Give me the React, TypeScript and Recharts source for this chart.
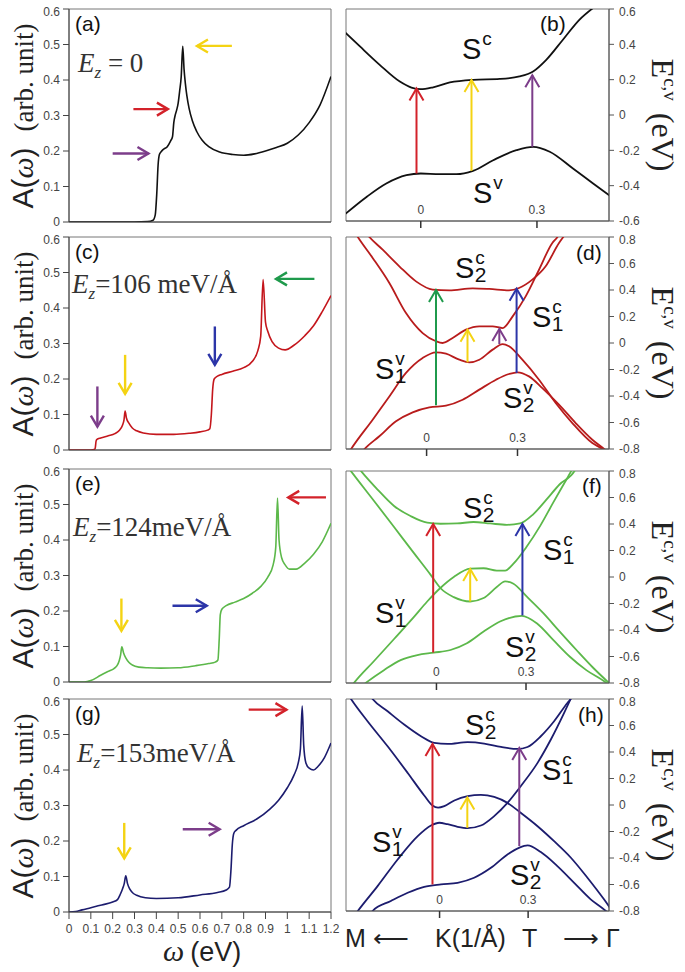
import React from 'react';
import { LineChart, Line, XAxis, YAxis, ReferenceLine, ReferenceArea } from 'recharts';

const SANS = 'Arial, "Liberation Sans", Helvetica, sans-serif';
const SERIF = '"Times New Roman", "Liberation Serif", "DejaVu Serif", serif';

// axis ticks
const omegaTicks = [0, 0.1, 0.2, 0.3, 0.4, 0.5, 0.6, 0.7, 0.8, 0.9, 1, 1.1, 1.2];
const absTicks = [0, 0.1, 0.2, 0.3, 0.4, 0.5, 0.6];
const kTicks = [0, 0.3];
const energyTicksSmall = [-0.6, -0.4, -0.2, 0, 0.2, 0.4, 0.6];
const energyTicksLarge = [-0.8, -0.6, -0.4, -0.2, 0, 0.2, 0.4, 0.6, 0.8];

// absorption spectra A(omega)
const omegaA = [0, 0.1, 0.2, 0.3, 0.36, 0.385, 0.395, 0.402, 0.408, 0.414, 0.422, 0.433, 0.45, 0.465, 0.474, 0.48, 0.486, 0.493, 0.5, 0.507, 0.514, 0.521, 0.527, 0.533, 0.54, 0.55, 0.565, 0.585, 0.61, 0.64, 0.69, 0.75, 0.8, 0.85, 0.9, 0.95, 1.0, 1.05, 1.1, 1.15, 1.2];
const specA = [0, 0, 0, 0, 0.001, 0.005, 0.02, 0.08, 0.16, 0.19, 0.198, 0.205, 0.212, 0.228, 0.24, 0.28, 0.3, 0.315, 0.335, 0.37, 0.41, 0.495, 0.43, 0.39, 0.355, 0.32, 0.285, 0.255, 0.23, 0.212, 0.197, 0.19, 0.188, 0.192, 0.2, 0.21, 0.222, 0.245, 0.28, 0.33, 0.41];

const omegaC = [0, 0.1, 0.115, 0.12, 0.124, 0.128, 0.145, 0.18, 0.21, 0.23, 0.245, 0.252, 0.257, 0.263, 0.275, 0.29, 0.31, 0.34, 0.4, 0.48, 0.55, 0.6, 0.635, 0.645, 0.652, 0.658, 0.665, 0.68, 0.7, 0.75, 0.8, 0.84, 0.865, 0.878, 0.889, 0.9, 0.91, 0.93, 0.96, 0.99, 1.03, 1.08, 1.12, 1.16, 1.2];
const specC = [0, 0, 0.001, 0.005, 0.025, 0.03, 0.034, 0.04, 0.046, 0.055, 0.07, 0.085, 0.11, 0.09, 0.075, 0.062, 0.054, 0.048, 0.044, 0.044, 0.047, 0.051, 0.056, 0.06, 0.1, 0.17, 0.2, 0.208, 0.213, 0.222, 0.232, 0.25, 0.28, 0.32, 0.48, 0.36, 0.335, 0.305, 0.287, 0.282, 0.295, 0.322, 0.35, 0.39, 0.435];

const omegaE = [0, 0.07, 0.1, 0.145, 0.18, 0.206, 0.22, 0.23, 0.236, 0.242, 0.25, 0.26, 0.275, 0.29, 0.32, 0.36, 0.42, 0.5, 0.58, 0.64, 0.67, 0.682, 0.688, 0.693, 0.7, 0.72, 0.76, 0.8, 0.84, 0.88, 0.91, 0.935, 0.947, 0.955, 0.962, 0.974, 0.99, 1.01, 1.04, 1.08, 1.12, 1.16, 1.2];
const specE = [0, 0, 0.004, 0.019, 0.03, 0.038, 0.046, 0.06, 0.075, 0.099, 0.082, 0.068, 0.055, 0.048, 0.042, 0.04, 0.039, 0.04, 0.046, 0.052, 0.056, 0.062, 0.12, 0.19, 0.205, 0.215, 0.225, 0.235, 0.25, 0.27, 0.295, 0.33, 0.38, 0.518, 0.4, 0.35, 0.33, 0.318, 0.318, 0.335, 0.36, 0.395, 0.447];

const omegaG = [0, 0.03, 0.06, 0.1, 0.15, 0.2, 0.222, 0.235, 0.245, 0.253, 0.26, 0.268, 0.278, 0.29, 0.31, 0.35, 0.4, 0.5, 0.6, 0.68, 0.72, 0.735, 0.742, 0.748, 0.755, 0.765, 0.8, 0.86, 0.92, 0.96, 1.0, 1.03, 1.05, 1.06, 1.068, 1.075, 1.085, 1.1, 1.12, 1.14, 1.17, 1.2];
const specG = [0, 0.001, 0.006, 0.012, 0.02, 0.028, 0.035, 0.05, 0.065, 0.08, 0.102, 0.08, 0.065, 0.055, 0.047, 0.04, 0.038, 0.04, 0.048, 0.055, 0.062, 0.07, 0.12, 0.19, 0.222, 0.23, 0.243, 0.262, 0.29, 0.315, 0.35, 0.385, 0.42, 0.46, 0.58, 0.47, 0.42, 0.405, 0.4, 0.41, 0.435, 0.476];

// marker arrows in spectra: [w1, a1, w2, a2, colour]
const arrowsA = [[0.746, 0.496, 0.586, 0.496, 'yellow'], [0.295, 0.318, 0.453, 0.318, 'red'], [0.2, 0.193, 0.364, 0.193, 'purple']];
const arrowsC = [[0.13, 0.179, 0.13, 0.066, 'purple'], [0.257, 0.268, 0.257, 0.158, 'yellow'], [0.668, 0.348, 0.668, 0.24, 'blue'], [1.124, 0.482, 0.948, 0.482, 'green']];
const arrowsE = [[0.24, 0.235, 0.24, 0.144, 'yellow'], [0.474, 0.215, 0.631, 0.215, 'blue'], [1.177, 0.52, 1.004, 0.52, 'red']];
const arrowsG = [[0.253, 0.251, 0.253, 0.151, 'yellow'], [0.521, 0.233, 0.69, 0.233, 'purple'], [0.823, 0.57, 0.996, 0.57, 'red']];

// band structures, [k, E]
const bandB_c = [[-0.2, 0.478], [-0.157, 0.388], [-0.106, 0.284], [-0.054, 0.189], [-0.024, 0.155], [0, 0.146], [0.032, 0.157], [0.075, 0.184], [0.135, 0.199], [0.204, 0.204], [0.255, 0.218], [0.29, 0.246], [0.324, 0.312], [0.367, 0.426], [0.41, 0.54], [0.445, 0.606]];
const bandB_v = [[-0.2, -0.57], [-0.14, -0.464], [-0.089, -0.388], [-0.037, -0.341], [0, -0.331], [0.049, -0.335], [0.092, -0.335], [0.135, -0.316], [0.187, -0.256], [0.247, -0.199], [0.29, -0.18], [0.333, -0.208], [0.393, -0.303], [0.445, -0.388], [0.49, -0.46]];

const bandD_2c = [[-0.2, 0.83], [-0.189, 0.8], [-0.145, 0.704], [-0.09, 0.579], [-0.035, 0.465], [0.02, 0.403], [0.075, 0.397], [0.152, 0.413], [0.207, 0.408], [0.272, 0.397], [0.305, 0.415], [0.349, 0.478], [0.393, 0.579], [0.437, 0.755], [0.451, 0.8], [0.46, 0.83]];
const bandD_1c = [[-0.238, 0.84], [-0.227, 0.8], [-0.178, 0.642], [-0.123, 0.453], [-0.068, 0.226], [-0.013, 0.075], [0.031, 0.013], [0.053, 0.0], [0.086, 0.038], [0.13, 0.101], [0.174, 0.126], [0.218, 0.126], [0.251, 0.113], [0.284, 0.201], [0.327, 0.352], [0.371, 0.553], [0.415, 0.755], [0.432, 0.8], [0.44, 0.83]];
const bandD_1v = [[-0.26, -0.84], [-0.249, -0.8], [-0.178, -0.579], [-0.123, -0.403], [-0.068, -0.226], [-0.013, -0.113], [0.031, -0.07], [0.064, -0.081], [0.108, -0.126], [0.141, -0.146], [0.174, -0.126], [0.218, -0.05], [0.251, -0.008], [0.272, -0.025], [0.316, -0.126], [0.371, -0.277], [0.426, -0.453], [0.481, -0.604], [0.547, -0.755], [0.58, -0.8], [0.6, -0.84]];
const bandD_2v = [[-0.22, -0.84], [-0.205, -0.8], [-0.156, -0.704], [-0.101, -0.591], [-0.046, -0.523], [0.009, -0.486], [0.064, -0.473], [0.119, -0.428], [0.174, -0.352], [0.229, -0.277], [0.272, -0.234], [0.3, -0.221], [0.338, -0.252], [0.382, -0.34], [0.437, -0.465], [0.492, -0.604], [0.547, -0.73], [0.591, -0.81], [0.61, -0.85]];

const bandF_a = [[-0.3, 0.84], [-0.287, 0.801], [-0.209, 0.574], [-0.142, 0.377], [-0.076, 0.182], [-0.02, 0.018], [0.013, -0.083], [0.058, -0.152], [0.113, -0.185], [0.158, -0.159], [0.202, -0.076], [0.23, -0.033], [0.258, -0.051], [0.302, -0.147], [0.358, -0.273], [0.413, -0.412], [0.469, -0.551], [0.524, -0.683], [0.58, -0.804]];
const bandF_b = [[-0.29, -0.84], [-0.276, -0.799], [-0.209, -0.634], [-0.142, -0.468], [-0.076, -0.303], [-0.031, -0.185], [0.013, -0.083], [0.058, 0.0], [0.113, 0.063], [0.158, 0.066], [0.202, 0.048], [0.23, 0.048], [0.258, 0.101], [0.302, 0.228], [0.347, 0.384], [0.391, 0.561], [0.436, 0.738], [0.452, 0.801], [0.46, 0.83]];
const bandF_2c = [[-0.27, 0.85], [-0.253, 0.801], [-0.198, 0.662], [-0.142, 0.536], [-0.087, 0.46], [-0.031, 0.41], [0.013, 0.402], [0.069, 0.404], [0.124, 0.415], [0.18, 0.404], [0.236, 0.394], [0.28, 0.404], [0.324, 0.473], [0.369, 0.586], [0.413, 0.7], [0.463, 0.801], [0.47, 0.83]];
const bandF_2v = [[-0.26, -0.84], [-0.237, -0.799], [-0.176, -0.703], [-0.12, -0.627], [-0.064, -0.589], [-0.009, -0.571], [0.047, -0.551], [0.102, -0.5], [0.158, -0.412], [0.213, -0.336], [0.286, -0.293], [0.336, -0.349], [0.391, -0.475], [0.447, -0.602], [0.502, -0.703], [0.569, -0.799], [0.59, -0.84]];

const bandH_a = [[-0.32, 0.87], [-0.3, 0.8], [-0.244, 0.632], [-0.176, 0.443], [-0.108, 0.242], [-0.052, 0.072], [-0.024, -0.004], [-0.005, -0.02], [0.016, -0.009], [0.05, 0.034], [0.095, 0.067], [0.14, 0.077], [0.185, 0.061], [0.23, 0.016], [0.275, -0.059], [0.332, -0.16], [0.388, -0.273], [0.445, -0.398], [0.501, -0.549], [0.557, -0.712], [0.585, -0.8]];
const bandH_b = [[-0.29, -0.84], [-0.277, -0.8], [-0.21, -0.612], [-0.142, -0.411], [-0.074, -0.235], [-0.029, -0.155], [-0.001, -0.134], [0.027, -0.145], [0.061, -0.165], [0.095, -0.175], [0.14, -0.155], [0.185, -0.084], [0.23, 0.016], [0.275, 0.142], [0.332, 0.318], [0.377, 0.494], [0.422, 0.695], [0.444, 0.8], [0.452, 0.84]];
const bandH_2c = [[-0.24, 0.84], [-0.227, 0.8], [-0.176, 0.707], [-0.12, 0.607], [-0.063, 0.519], [-0.018, 0.469], [0.027, 0.461], [0.095, 0.474], [0.151, 0.464], [0.208, 0.438], [0.264, 0.423], [0.298, 0.438], [0.343, 0.519], [0.388, 0.632], [0.433, 0.77], [0.444, 0.8], [0.452, 0.83]];
const bandH_2v = [[-0.24, -0.84], [-0.227, -0.8], [-0.165, -0.725], [-0.108, -0.662], [-0.052, -0.617], [0.005, -0.599], [0.061, -0.587], [0.117, -0.549], [0.174, -0.474], [0.23, -0.373], [0.269, -0.323], [0.298, -0.305], [0.343, -0.355], [0.399, -0.461], [0.456, -0.587], [0.512, -0.712], [0.563, -0.8], [0.58, -0.84]];

// vertical transitions: [k, E_from, E_to, colour]
const transB = [[-0.011, -0.331, 0.15, 'red'], [0.131, -0.316, 0.198, 'yellow'], [0.288, -0.18, 0.225, 'purple']];
const transD = [[0.031, -0.47, 0.4, 'green'], [0.135, -0.146, 0.1, 'yellow'], [0.24, -0.008, 0.105, 'purple'], [0.297, -0.226, 0.41, 'blue']];
const transF = [[-0.011, -0.57, 0.4, 'red'], [0.113, -0.185, 0.06, 'yellow'], [0.288, -0.29, 0.4, 'blue']];
const transH = [[-0.024, -0.6, 0.46, 'red'], [0.094, -0.172, 0.057, 'yellow'], [0.27, -0.31, 0.43, 'purple']];

const palette: Record<string, string> = {
  red: '#d3222a',
  yellow: '#f4d313',
  purple: '#7c3d8a',
  green: '#1f9a4c',
  blue: '#2c35a8',
};

const zip = (xs: number[], ys: number[]) => xs.map((x, i) => ({ x, y: ys[i] }));
const toXY = (pts: number[][]) => pts.map(([x, y]) => ({ x, y }));

const arrowShape = (color: string, head: number, half: number, sw: number) => (p: any) => {
  const { x1, y1, x2, y2 } = p;
  const dx = x2 - x1;
  const dy = y2 - y1;
  const len = Math.hypot(dx, dy) || 1;
  const ux = dx / len;
  const uy = dy / len;
  const bx = x2 - ux * head;
  const by = y2 - uy * head;
  const px = -uy * half;
  const py = ux * half;
  return (
    <g>
      <line x1={x1} y1={y1} x2={x2} y2={y2} stroke={color} strokeWidth={sw} />
      <polyline
        points={`${bx + px},${by + py} ${x2},${y2} ${bx - px},${by - py}`}
        fill="none"
        stroke={color}
        strokeWidth={sw}
      />
    </g>
  );
};

const numLabel = (v: number) => String(v);

const tickStyle = { fontSize: 12, fontFamily: SANS, fill: '#444' };

function SpectrumPanel({ top, data, color, arrows, showX }: any) {
  return (
    <div style={{ position: 'absolute', left: 0, top: top - 5 }}>
      <LineChart width={340} height={248} data={data} margin={{ top: 5, right: 9, bottom: 0, left: 0 }}>
        <XAxis
          type="number"
          dataKey="x"
          domain={[0, 1.2]}
          ticks={omegaTicks}
          allowDataOverflow
          height={30}
          tickSize={7}
          tickMargin={5}
          tick={showX ? tickStyle : false}
          tickFormatter={numLabel}
          axisLine={{ stroke: '#444' }}
          tickLine={{ stroke: '#444' }}
        />
        <YAxis
          type="number"
          domain={[0, 0.6]}
          ticks={absTicks}
          allowDataOverflow
          width={69}
          tickSize={6}
          tickMargin={3}
          tick={tickStyle}
          tickFormatter={numLabel}
          axisLine={{ stroke: '#444' }}
          tickLine={{ stroke: '#444' }}
        />
        <ReferenceArea x1={0} x2={1.2} y1={0} y2={0.6} fill="none" stroke="#777" strokeWidth={1} />
        <Line
          dataKey="y"
          type="monotone"
          stroke={color}
          strokeWidth={1.6}
          dot={false}
          activeDot={false}
          isAnimationActive={false}
        />
        {arrows.map((a: any[], i: number) => (
          <ReferenceLine
            key={i}
            segment={[{ x: a[0], y: a[1] }, { x: a[2], y: a[3] }]}
            shape={arrowShape(palette[a[4]], 11, 6.5, 2.4)}
          />
        ))}
      </LineChart>
    </div>
  );
}

const KTick = (p: any) => (
  <text x={p.x} y={p.y - 16} textAnchor="middle" fontSize={12} fontFamily={SANS} fill="#444">
    {p.payload.value}
  </text>
);

function BandPanel({ top, kDomain, eDomain, eTicks, bands, trans, color }: any) {
  return (
    <div style={{ position: 'absolute', left: 340, top: top - 5 }}>
      <LineChart width={319} height={240} margin={{ top: 5, right: 0, bottom: 0, left: 6 }}>
        <XAxis
          type="number"
          dataKey="x"
          domain={kDomain}
          ticks={kTicks}
          allowDataOverflow
          height={23}
          tickSize={7}
          tick={(p: any) => <KTick {...p} />}
          axisLine={{ stroke: '#555' }}
          tickLine={{ stroke: '#333', strokeWidth: 1.5 }}
        />
        <YAxis
          type="number"
          orientation="right"
          domain={eDomain}
          ticks={eTicks}
          allowDataOverflow
          width={50}
          tickSize={5}
          tickMargin={5}
          tick={tickStyle}
          tickFormatter={numLabel}
          axisLine={{ stroke: '#555' }}
          tickLine={{ stroke: '#555' }}
        />
        <ReferenceArea x1={kDomain[0]} x2={kDomain[1]} y1={eDomain[0]} y2={eDomain[1]} fill="none" stroke="#777" />
        {bands.map((b: number[][], i: number) => (
          <Line
            key={i}
            data={toXY(b)}
            dataKey="y"
            type="monotone"
            stroke={color}
            strokeWidth={1.8}
            dot={false}
            activeDot={false}
            isAnimationActive={false}
          />
        ))}
        {trans.map((t: any[], i: number) => (
          <ReferenceLine
            key={'t' + i}
            segment={[{ x: t[0], y: t[1] }, { x: t[0], y: t[2] }]}
            shape={arrowShape(palette[t[3]], 12, 7, 2)}
          />
        ))}
      </LineChart>
    </div>
  );
}

const BandLabel = ({ x, y, sub, sup }: any) => (
  <text x={x} y={y} fontFamily={SANS} fontSize={29} fill="#111">
    S
    <tspan fontSize={19} dx={1} dy={-14}>{sup}</tspan>
    {sub ? (
      <tspan fontSize={21} dx={-10} dy={18}>{sub}</tspan>
    ) : null}
  </text>
);

const LeftLabel = ({ cy }: any) => (
  <text transform={`translate(33, ${cy}) rotate(-90)`} textAnchor="middle" fill="#222">
    <tspan fontFamily={SANS} fontSize={30}>A(</tspan>
    <tspan fontFamily={SERIF} fontStyle="italic" fontSize={30}>ω</tspan>
    <tspan fontFamily={SANS} fontSize={30}>)</tspan>
    <tspan fontFamily={SERIF} fontSize={27} dx={16}>(arb. unit)</tspan>
  </text>
);

const RightLabel = ({ cy }: any) => (
  <text transform={`translate(652, ${cy}) rotate(90)`} textAnchor="middle" fontFamily={SERIF} fill="#222">
    <tspan fontSize={32}>E</tspan>
    <tspan fontSize={19} dy={-12}>c,v</tspan>
    <tspan fontSize={32} dx={12} dy={12}>(eV)</tspan>
  </text>
);

const FieldLabel = ({ x, y, value }: any) => (
  <text x={x} y={y} fontFamily={SERIF} fontSize={27} fill="#333">
    <tspan fontStyle="italic">E</tspan>
    <tspan fontStyle="italic" fontSize={17} dy={6}>z</tspan>
    <tspan dy={-6}>{value}</tspan>
  </text>
);

export default function App() {
  const leftTops = [9, 237, 469, 699];
  const rightTops = [9, 237, 471, 699];
  return (
    <div style={{ position: 'absolute', left: 0, top: 0, width: 685, height: 972, background: '#fff' }}>
      <SpectrumPanel top={leftTops[0]} data={zip(omegaA, specA)} color="#111" arrows={arrowsA} showX={false} />
      <SpectrumPanel top={leftTops[1]} data={zip(omegaC, specC)} color="#c4161c" arrows={arrowsC} showX={false} />
      <SpectrumPanel top={leftTops[2]} data={zip(omegaE, specE)} color="#5cb84a" arrows={arrowsE} showX={false} />
      <SpectrumPanel top={leftTops[3]} data={zip(omegaG, specG)} color="#1c1c6e" arrows={arrowsG} showX />

      <BandPanel top={rightTops[0]} kDomain={[-0.193, 0.486]} eDomain={[-0.6, 0.6]} eTicks={energyTicksSmall} bands={[bandB_c, bandB_v]} trans={transB} color="#111" />
      <BandPanel top={rightTops[1]} kDomain={[-0.266, 0.602]} eDomain={[-0.8, 0.8]} eTicks={energyTicksLarge} bands={[bandD_2c, bandD_1c, bandD_1v, bandD_2v]} trans={transD} color="#b81c1c" />
      <BandPanel top={rightTops[2]} kDomain={[-0.303, 0.578]} eDomain={[-0.8, 0.8]} eTicks={energyTicksLarge} bands={[bandF_a, bandF_b, bandF_2c, bandF_2v]} trans={transF} color="#5cb84a" />
      <BandPanel top={rightTops[3]} kDomain={[-0.317, 0.574]} eDomain={[-0.8, 0.8]} eTicks={energyTicksLarge} bands={[bandH_a, bandH_b, bandH_2c, bandH_2v]} trans={transH} color="#1c1c6e" />

      <svg width={685} height={972} style={{ position: 'absolute', left: 0, top: 0, pointerEvents: 'none' }}>
        <g fontFamily={SANS} fontSize={21} fill="#111">
          <text x={75} y={31}>(a)</text>
          <text x={75} y={259}>(c)</text>
          <text x={75} y={491}>(e)</text>
          <text x={75} y={721}>(g)</text>
          <text x={540} y={31}>(b)</text>
          <text x={576} y={260}>(d)</text>
          <text x={582} y={493}>(f)</text>
          <text x={578} y={722}>(h)</text>
        </g>

        <FieldLabel x={78} y={72} value=" = 0" />
        <FieldLabel x={72} y={293} value="=106 meV/Å" />
        <FieldLabel x={73} y={536} value="=124meV/Å" />
        <FieldLabel x={77} y={762} value="=153meV/Å" />

        {[116, 344, 576, 806].map((cy) => <LeftLabel key={cy} cy={cy} />)}
        {[115, 343, 577, 805].map((cy) => <RightLabel key={cy} cy={cy} />)}

        <BandLabel x={462} y={59} sup="c" />
        <BandLabel x={473} y={203} sup="v" />

        <BandLabel x={455} y={278} sup="c" sub="2" />
        <BandLabel x={532} y={327} sup="c" sub="1" />
        <BandLabel x={375} y={379} sup="v" sub="1" />
        <BandLabel x={503} y={408} sup="v" sub="2" />

        <BandLabel x={463} y={518} sup="c" sub="2" />
        <BandLabel x={543} y={560} sup="c" sub="1" />
        <BandLabel x={375} y={623} sup="v" sub="1" />
        <BandLabel x={505} y={657} sup="v" sub="2" />

        <BandLabel x={465} y={735} sup="c" sub="2" />
        <BandLabel x={542} y={780} sup="c" sub="1" />
        <BandLabel x={372} y={852} sup="v" sub="1" />
        <BandLabel x={510} y={885} sup="v" sub="2" />

        <text x={163} y={961} fill="#222">
          <tspan fontFamily={SERIF} fontStyle="italic" fontSize={30}>ω</tspan>
          <tspan fontFamily={SANS} fontSize={27} dx={6}>(eV)</tspan>
        </text>

        <g fontFamily={SANS} fontSize={25} fill="#222">
          <text x={345} y={947}>M ⟵</text>
          <text x={435} y={947}>K(1/Å)</text>
          <text x={522} y={947}>T</text>
          <text x={563} y={947}>⟶ Γ</text>
        </g>
      </svg>
    </div>
  );
}
